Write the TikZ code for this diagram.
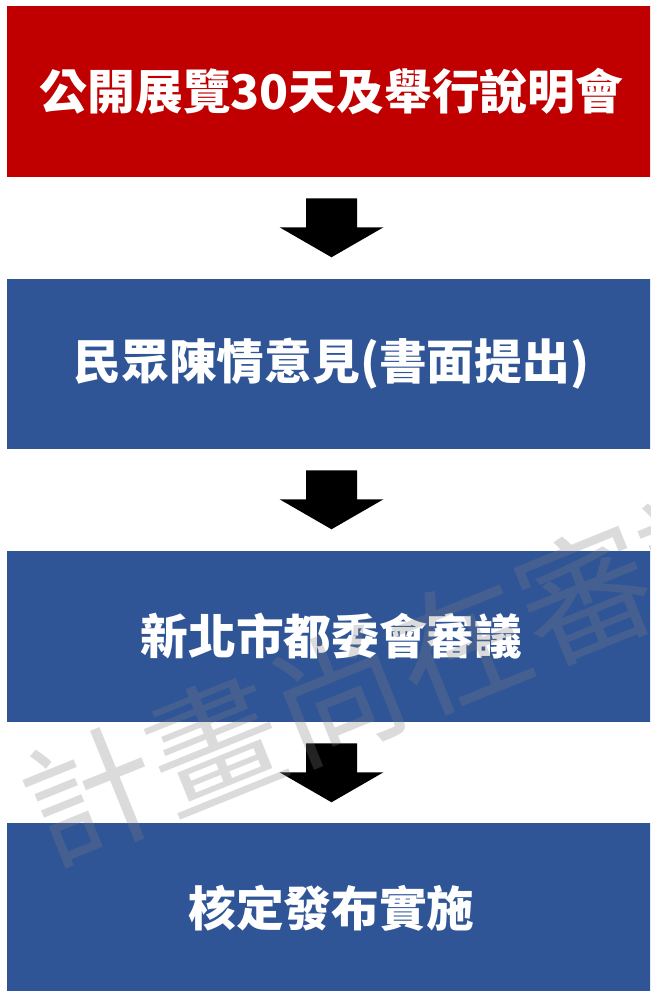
\documentclass[tikz,border=0pt]{standalone}
\usepackage{fontspec}
\newfontfamily\cjk{Noto Sans CJK TC}
\definecolor{boxred}{HTML}{C00000}
\definecolor{boxblue}{HTML}{2F5597}
\begin{document}
\begin{tikzpicture}[x=0.75pt,y=-0.75pt,
  stepbox/.style={rectangle, inner sep=0pt, minimum width=649*0.75pt, minimum height=171*0.75pt,
    text=white, font=\cjk\bfseries\fontsize{35.8}{40}\selectfont},
  blockarrow/.style={fill=black}]
\clip (0,0) rectangle (650,991);
\fill[white] (0,0) rectangle (650,991);
\node[stepbox, fill=boxred]  (b1) at (331.5,91.5) {公開展覽30天及舉行說明會};
\node[stepbox, fill=boxblue, minimum height=170*0.75pt] (b2) at (331.5,364) {民眾陳情意見(書面提出)};
\node[stepbox, fill=boxblue] (b3) at (331.5,636.5) {新北市都委會審議};
\node[stepbox, fill=boxblue] (b4) at (331.5,908.5) {核定發布實施};
\foreach \a in {b1,b2,b3}{
  \fill[blockarrow] (\a.south) ++(-25.5,21) -- ++(51,0) -- ++(0,29) -- ++(26.5,0) -- ++(-52,30) -- ++(-52,-30) -- ++(26.5,0) -- cycle;
}
\node[rotate=22, text=black!50, opacity=0.28, font=\cjk\fontsize{100}{110}\selectfont] (wm) at (400,670) {計畫尚在審議};
\end{tikzpicture}
\end{document}
